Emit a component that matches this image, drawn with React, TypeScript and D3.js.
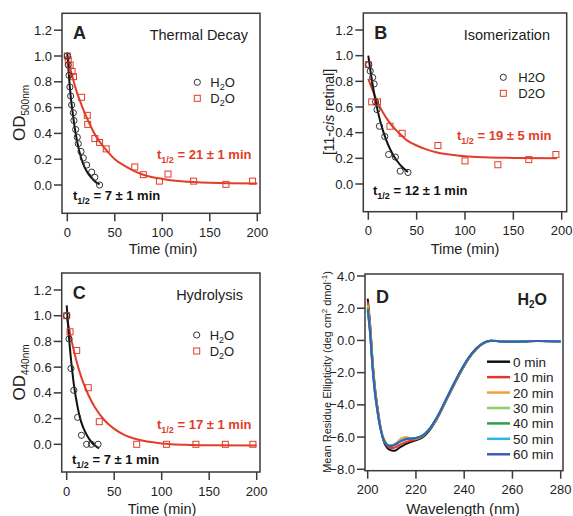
import React from 'react';
import * as d3 from 'd3';

const FONT = '"Liberation Sans", Arial, Helvetica, sans-serif';
const RED = '#e23d28';
const INK = '#222';
const FRAME = '#3a3a3a';

// ---------- Panel A: Thermal decay ----------
const aH2OTime = [0, 1, 1.8, 2.8, 3.5, 4.6, 6.3, 7, 8.8, 10.5, 11.6, 14.4, 16.8, 20.4, 25.7, 29, 34];
const aH2OVal = [1.0, 0.93, 0.85, 0.76, 0.69, 0.62, 0.56, 0.5, 0.43, 0.37, 0.32, 0.26, 0.21, 0.155, 0.1, 0.06, 0.0];
const aD2OTime = [0, 1, 3, 5, 6.5, 15, 21, 21.5, 29, 34, 41, 71, 80, 97, 106, 133, 167, 195];
const aD2OVal = [1.0, 0.97, 0.93, 0.88, 0.84, 0.68, 0.54, 0.47, 0.36, 0.33, 0.28, 0.14, 0.08, 0.03, 0.085, 0.03, 0.005, 0.03];
const aH2OFitTime = [0, 3, 6, 9, 12, 15, 18, 21, 25, 30, 34];
const aH2OFitVal = [1.02, 0.73, 0.54, 0.39, 0.28, 0.2, 0.14, 0.1, 0.06, 0.022, 0.005];
const aD2OFitTime = [0, 5, 10, 15, 20, 25, 30, 40, 50, 60, 70, 80, 100, 120, 150, 200];
const aD2OFitVal = [1.0, 0.85, 0.72, 0.62, 0.53, 0.45, 0.38, 0.28, 0.2, 0.15, 0.11, 0.08, 0.047, 0.029, 0.017, 0.011];

// ---------- Panel B: Isomerization ----------
const bH2OTime = [0.5, 2, 4.5, 6, 7.5, 9, 11.5, 17, 21, 28, 33, 41];
const bH2OVal = [0.93, 0.88, 0.83, 0.78, 0.64, 0.58, 0.45, 0.37, 0.23, 0.21, 0.1, 0.09];
const bD2OTime = [0, 3.5, 9.5, 22.4, 35, 72, 100, 134, 166, 194];
const bD2OVal = [0.93, 0.64, 0.64, 0.45, 0.395, 0.3, 0.18, 0.15, 0.19, 0.23];
const bH2OFitTime = [0, 5, 10, 15, 20, 25, 30, 35, 41];
const bH2OFitVal = [1.0, 0.75, 0.56, 0.42, 0.315, 0.236, 0.177, 0.132, 0.093];
const bD2OFitTime = [0, 5, 10, 15, 20, 25, 30, 40, 50, 60, 70, 80, 100, 120, 150, 195];
const bD2OFitVal = [0.82, 0.72, 0.63, 0.56, 0.5, 0.45, 0.41, 0.34, 0.3, 0.27, 0.248, 0.233, 0.216, 0.208, 0.203, 0.2];

// ---------- Panel C: Hydrolysis ----------
const cH2OTime = [0, 2.5, 4.5, 7.5, 11.5, 15.5, 21, 26, 33];
const cH2OVal = [1.0, 0.82, 0.59, 0.42, 0.21, 0.07, 0.0, 0.0, 0.0];
const cD2OTime = [0, 3.5, 10.5, 22.7, 34.3, 73.7, 105, 136, 167, 196];
const cD2OVal = [1.0, 0.875, 0.73, 0.44, 0.176, 0.0, 0.0, 0.0, 0.0, 0.0];
const cH2OFitTime = [0, 2, 4, 6, 8, 10, 12, 15, 18, 22, 26, 30, 34];
const cH2OFitVal = [1.08, 0.87, 0.7, 0.56, 0.44, 0.35, 0.27, 0.18, 0.12, 0.06, 0.018, -0.011, -0.031];
const cD2OFitTime = [0, 5, 10, 15, 20, 25, 30, 40, 50, 60, 75, 100, 125, 150, 200];
const cD2OFitVal = [0.99, 0.81, 0.655, 0.53, 0.432, 0.35, 0.284, 0.185, 0.12, 0.076, 0.037, 0.007, -0.004, -0.008, -0.01];

const kineticXTicks = [0, 50, 100, 150, 200];
const kineticYTicks = [0, 0.2, 0.4, 0.6, 0.8, 1.0, 1.2];

// ---------- Panel D: CD spectra ----------
const cdWavelength = [200, 201, 202, 203, 204, 205, 206, 207, 208, 209, 210, 211, 212, 213, 214, 215, 216, 218, 220, 222, 224, 226, 228, 230, 233, 236, 239, 242, 245, 248, 251, 255, 260, 265, 270, 275, 280];
const cd0min = [2.6, 1.0, -1.2, -2.9, -4.1, -5.1, -5.9, -6.4, -6.65, -6.78, -6.83, -6.85, -6.8, -6.68, -6.58, -6.5, -6.42, -6.3, -6.2, -6.08, -5.85, -5.5, -5.05, -4.5, -3.6, -2.7, -1.85, -1.1, -0.55, -0.18, -0.03, -0.05, -0.08, -0.06, -0.03, -0.04, -0.05];
const cd10min = [2.4, 0.9, -1.3, -3.0, -4.2, -5.15, -5.85, -6.3, -6.55, -6.65, -6.68, -6.66, -6.6, -6.5, -6.42, -6.36, -6.3, -6.22, -6.14, -6.02, -5.8, -5.45, -5.0, -4.45, -3.55, -2.65, -1.8, -1.07, -0.52, -0.16, -0.02, -0.06, -0.07, -0.05, -0.04, -0.05, -0.06];
const cd20min = [2.2, 0.7, -1.4, -3.1, -4.25, -5.15, -5.8, -6.2, -6.42, -6.5, -6.5, -6.45, -6.35, -6.2, -6.08, -6.02, -6.0, -6.08, -6.1, -6.0, -5.78, -5.42, -4.98, -4.45, -3.55, -2.65, -1.8, -1.07, -0.52, -0.16, -0.02, -0.05, -0.07, -0.05, -0.03, -0.05, -0.05];
const cd30min = [2.1, 0.6, -1.5, -3.15, -4.3, -5.2, -5.85, -6.25, -6.45, -6.52, -6.52, -6.48, -6.4, -6.3, -6.22, -6.16, -6.12, -6.1, -6.08, -5.98, -5.77, -5.42, -4.97, -4.43, -3.53, -2.63, -1.78, -1.05, -0.5, -0.15, -0.02, -0.04, -0.07, -0.04, -0.03, -0.04, -0.05];
const cd40min = [2.0, 0.5, -1.6, -3.2, -4.32, -5.22, -5.87, -6.27, -6.47, -6.54, -6.53, -6.48, -6.41, -6.31, -6.23, -6.17, -6.13, -6.1, -6.07, -5.97, -5.76, -5.41, -4.96, -4.42, -3.52, -2.62, -1.77, -1.05, -0.5, -0.15, -0.02, -0.05, -0.06, -0.05, -0.03, -0.05, -0.05];
const cd50min = [1.8, 0.4, -1.7, -3.3, -4.4, -5.3, -5.9, -6.3, -6.48, -6.52, -6.5, -6.45, -6.38, -6.28, -6.2, -6.14, -6.1, -6.08, -6.05, -5.95, -5.74, -5.4, -4.95, -4.4, -3.5, -2.6, -1.76, -1.04, -0.5, -0.15, -0.02, -0.05, -0.07, -0.05, -0.03, -0.05, -0.05];
const cd60min = [1.9, 0.45, -1.65, -3.25, -4.35, -5.25, -5.9, -6.3, -6.5, -6.55, -6.55, -6.5, -6.42, -6.32, -6.24, -6.18, -6.12, -6.1, -6.06, -5.96, -5.76, -5.42, -4.96, -4.42, -3.5, -2.6, -1.76, -1.04, -0.5, -0.15, -0.02, -0.06, -0.08, -0.06, -0.03, -0.05, -0.06];
const cdSeriesNames = ['0 min', '10 min', '20 min', '30 min', '40 min', '50 min', '60 min'];
const cdSeriesValues = [cd0min, cd10min, cd20min, cd30min, cd40min, cd50min, cd60min];
const cdSeriesColors = ['#111111', '#e0392b', '#f0a23a', '#8fcf6a', '#2e9e4f', '#2bb6e0', '#3a5fb0'];
const cdXTicks = [200, 220, 240, 260, 280];
const cdYTicks = [4, 2, 0, -2, -4, -6, -8];

type Frame = { x0: number; x1: number; y0: number; y1: number };

function zip(xs: number[], ys: number[]): [number, number][] {
  return xs.map((x, i) => [x, ys[i]]);
}

function Tsub({ value, color, x, y }: { value: string; color: string; x: number; y: number }) {
  return (
    <text x={x} y={y} fill={color} fontSize={13} fontWeight="bold" fontFamily={FONT}>
      t<tspan fontSize={9} dy={4}>1/2</tspan>
      <tspan dy={-4}>{' = ' + value}</tspan>
    </text>
  );
}

function Axes({ frame, x, y, xTicks, yTicks, fmtY, fmtX }: any) {
  return (
    <g fontFamily={FONT} fill={INK}>
      <rect x={frame.x0} y={frame.y0} width={frame.x1 - frame.x0} height={frame.y1 - frame.y0} fill="none" stroke={FRAME} strokeWidth={1.5} />
      {yTicks.map((t: number) => (
        <g key={'y' + t}>
          <line x1={frame.x0 - 8} x2={frame.x0} y1={y(t)} y2={y(t)} stroke={FRAME} strokeWidth={1.5} />
          <text x={frame.x0 - 10} y={y(t) + 4.5} textAnchor="end" fontSize={13}>{fmtY(t)}</text>
        </g>
      ))}
      {xTicks.map((t: number) => (
        <g key={'x' + t}>
          <line x1={x(t)} x2={x(t)} y1={frame.y1} y2={frame.y1 + 8} stroke={FRAME} strokeWidth={1.5} />
          <text x={x(t)} y={frame.y1 + 23.5} textAnchor="middle" fontSize={13}>{fmtX(t)}</text>
        </g>
      ))}
    </g>
  );
}

function KineticPanel(props: any) {
  const { frame, xRange, yRange, h2o, d2o, h2oFit, d2oFit, letter, title, titleRight, yLabel, legend, redNote, blackNote, subscriptLegend } = props;
  const x = d3.scaleLinear().domain([0, 200]).range(xRange);
  const y = d3.scaleLinear().domain([0, 1.2]).range(yRange);
  const line = d3.line<[number, number]>().x(d => x(d[0])).y(d => y(d[1])).curve(d3.curveMonotoneX);
  const fmt = d3.format('.1f');
  return (
    <g>
      <Axes frame={frame} x={x} y={y} xTicks={kineticXTicks} yTicks={kineticYTicks} fmtY={fmt} fmtX={(t: number) => String(t)} />
      <path d={line(d2oFit) || ''} fill="none" stroke={RED} strokeWidth={2} />
      <path d={line(h2oFit) || ''} fill="none" stroke="#111" strokeWidth={2} />
      {d2o.map((d: [number, number], i: number) => (
        <rect key={'s' + i} x={x(d[0]) - 3} y={y(d[1]) - 3} width={6} height={6} fill="none" stroke={RED} strokeWidth={1} />
      ))}
      {h2o.map((d: [number, number], i: number) => (
        <circle key={'c' + i} cx={x(d[0])} cy={y(d[1])} r={3.1} fill="none" stroke="#333" strokeWidth={1} />
      ))}
      <text x={frame.x0 + 11} y={frame.y0 + 26} fontSize={18} fontWeight="bold" fontFamily={FONT} fill={INK}>{letter}</text>
      <text x={titleRight} y={frame.y0 + 27} fontSize={14.5} textAnchor="end" fontFamily={FONT} fill={INK}>{title}</text>
      {yLabel}
      <g fontFamily={FONT} fontSize={13} fill={INK}>
        <circle cx={legend.x} cy={legend.y} r={3.1} fill="none" stroke="#333" strokeWidth={1} />
        <rect x={legend.x - 3} y={legend.y + 16 - 3} width={6} height={6} fill="none" stroke={RED} strokeWidth={1} />
        {subscriptLegend ? (
          <>
            <text x={legend.x + 13} y={legend.y + 4.5}>H<tspan fontSize={9} dy={3}>2</tspan><tspan dy={-3}>O</tspan></text>
            <text x={legend.x + 13} y={legend.y + 20.5}>D<tspan fontSize={9} dy={3}>2</tspan><tspan dy={-3}>O</tspan></text>
          </>
        ) : (
          <>
            <text x={legend.x + 15} y={legend.y + 4.5}>H2O</text>
            <text x={legend.x + 15} y={legend.y + 20.5}>D2O</text>
          </>
        )}
      </g>
      <Tsub value={redNote.text} color={RED} x={redNote.x} y={redNote.y} />
      <Tsub value={blackNote.text} color="#111" x={blackNote.x} y={blackNote.y} />
    </g>
  );
}

function CDPanel() {
  const frame: Frame = { x0: 365, x1: 563, y0: 274, y1: 470.7 };
  const x = d3.scaleLinear().domain([200, 280]).range([367.7, 560.7]);
  const y = d3.scaleLinear().domain([-8, 4]).range([469.3, 276]);
  const line = d3.line<number>().x((_, i) => x(cdWavelength[i])).y(d => y(d)).curve(d3.curveMonotoneX);
  const fmt = d3.format('.1f');
  return (
    <g>
      <Axes frame={frame} x={x} y={y} xTicks={cdXTicks} yTicks={cdYTicks} fmtY={fmt} fmtX={(t: number) => String(t)} />
      {cdSeriesValues.map((vals, i) => (
        <path key={i} d={line(vals) || ''} fill="none" stroke={cdSeriesColors[i]} strokeWidth={2} strokeLinejoin="round" />
      ))}
      <g fontFamily={FONT} fontSize={13.5} fill={INK}>
        {cdSeriesNames.map((n, i) => (
          <g key={n}>
            <line x1={487} x2={510} y1={361.7 + i * 15.43} y2={361.7 + i * 15.43} stroke={cdSeriesColors[i]} strokeWidth={2.5} />
            <text x={513} y={361.7 + i * 15.43 + 5}>{n}</text>
          </g>
        ))}
      </g>
      <text x={frame.x0 + 11} y={frame.y0 + 29} fontSize={18} fontWeight="bold" fontFamily={FONT} fill={INK}>D</text>
      <text x={547} y={305} fontSize={16} fontWeight="bold" textAnchor="end" fontFamily={FONT} fill={INK}>H<tspan fontSize={10} dy={3}>2</tspan><tspan dy={-3}>O</tspan></text>
      <text transform={`translate(331,372) rotate(-90)`} textAnchor="middle" fontSize={11} fontFamily={FONT} fill={INK}>
        Mean Residue Ellipticity (deg cm<tspan fontSize={8} dy={-4}>2</tspan><tspan dy={4}> dmol</tspan><tspan fontSize={8} dy={-4}>-1</tspan><tspan dy={4}>)</tspan>
      </text>
      <text x={463} y={514} textAnchor="middle" fontSize={15} fontFamily={FONT} fill={INK}>Wavelength (nm)</text>
    </g>
  );
}

export default function App() {
  return (
    <svg width={573} height={516} style={{ position: 'absolute', left: 0, top: 0, background: '#fff' }}>
      <rect width={573} height={516} fill="#fff" />
      <KineticPanel
        frame={{ x0: 62, x1: 260, y0: 13.3, y1: 213.3 }}
        xRange={[67.3, 257.3]}
        yRange={[185, 30.2]}
        h2o={zip(aH2OTime, aH2OVal)}
        d2o={zip(aD2OTime, aD2OVal)}
        h2oFit={zip(aH2OFitTime, aH2OFitVal)}
        d2oFit={zip(aD2OFitTime, aD2OFitVal)}
        letter="A"
        title="Thermal Decay"
        titleRight={248}
        subscriptLegend={true}
        legend={{ x: 197.3, y: 82.3 }}
        redNote={{ text: '21 ± 1 min', x: 157, y: 158.5 }}
        blackNote={{ text: '7 ± 1 min', x: 73, y: 200 }}
        yLabel={
          <text transform="translate(25,113) rotate(-90)" textAnchor="middle" fontSize={17} fontFamily={FONT} fill={INK}>
            OD<tspan fontSize={10} dy={4}>500nm</tspan>
          </text>
        }
      />
      <KineticPanel
        frame={{ x0: 363.3, x1: 566.7, y0: 13, y1: 211.7 }}
        xRange={[368.3, 561.7]}
        yRange={[184, 30]}
        h2o={zip(bH2OTime, bH2OVal)}
        d2o={zip(bD2OTime, bD2OVal)}
        h2oFit={zip(bH2OFitTime, bH2OFitVal)}
        d2oFit={zip(bD2OFitTime, bD2OFitVal)}
        letter="B"
        title="Isomerization"
        titleRight={550}
        subscriptLegend={false}
        legend={{ x: 503.3, y: 77.3 }}
        redNote={{ text: '19 ± 5 min', x: 457, y: 140 }}
        blackNote={{ text: '12 ± 1 min', x: 373, y: 195 }}
        yLabel={
          <text transform="translate(334,112) rotate(-90)" textAnchor="middle" fontSize={14} fontFamily={FONT} fill={INK}>
            [11-<tspan fontStyle="italic">cis</tspan> retinal]
          </text>
        }
      />
      <KineticPanel
        frame={{ x0: 61.7, x1: 260, y0: 273, y1: 472 }}
        xRange={[66.7, 256.7]}
        yRange={[444.3, 290]}
        h2o={zip(cH2OTime, cH2OVal)}
        d2o={zip(cD2OTime, cD2OVal)}
        h2oFit={zip(cH2OFitTime, cH2OFitVal)}
        d2oFit={zip(cD2OFitTime, cD2OFitVal)}
        letter="C"
        title="Hydrolysis"
        titleRight={243}
        subscriptLegend={true}
        legend={{ x: 196.7, y: 335 }}
        redNote={{ text: '17 ± 1 min', x: 157, y: 428.5 }}
        blackNote={{ text: '7 ± 1 min', x: 72, y: 463.5 }}
        yLabel={
          <text transform="translate(25,372.5) rotate(-90)" textAnchor="middle" fontSize={17} fontFamily={FONT} fill={INK}>
            OD<tspan fontSize={10} dy={4}>440nm</tspan>
          </text>
        }
      />
      <text x={163} y={254} textAnchor="middle" fontSize={14.5} fontFamily={FONT} fill={INK}>Time (min)</text>
      <text x={465} y={254} textAnchor="middle" fontSize={14.5} fontFamily={FONT} fill={INK}>Time (min)</text>
      <text x={162} y={514} textAnchor="middle" fontSize={14.5} fontFamily={FONT} fill={INK}>Time (min)</text>
      <CDPanel />
    </svg>
  );
}
